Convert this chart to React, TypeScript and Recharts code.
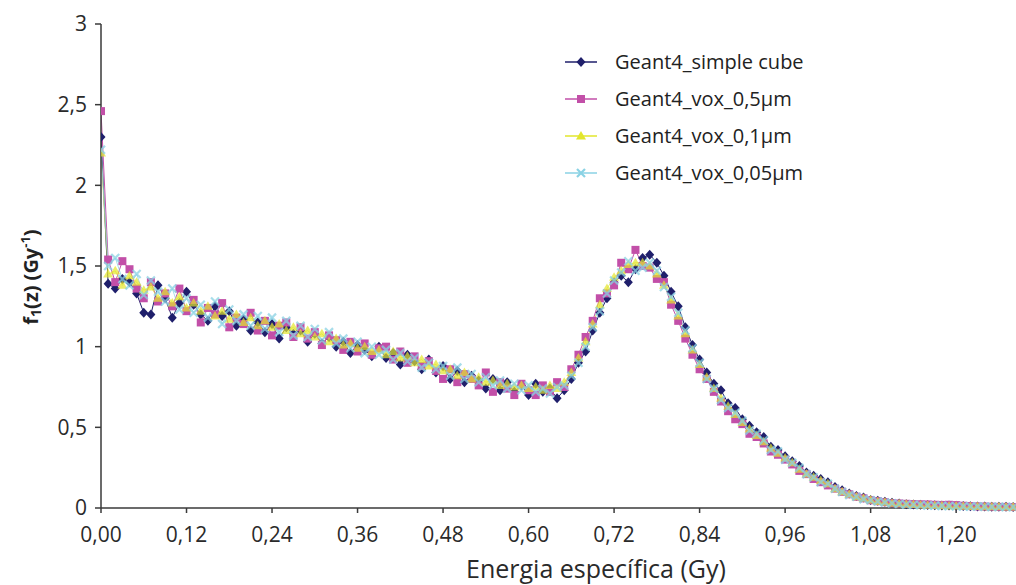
import React from 'react';
import { LineChart, Line, XAxis, YAxis } from 'recharts';

// specific energy bins (Gy)
const energy = [
  0.0, 0.01, 0.02, 0.03, 0.04, 0.05, 0.06, 0.07, 0.08, 0.09,
  0.1, 0.11, 0.12, 0.13, 0.14, 0.15, 0.16, 0.17, 0.18, 0.19,
  0.2, 0.21, 0.22, 0.23, 0.24, 0.25, 0.26, 0.27, 0.28, 0.29,
  0.3, 0.31, 0.32, 0.33, 0.34, 0.35, 0.36, 0.37, 0.38, 0.39,
  0.4, 0.41, 0.42, 0.43, 0.44, 0.45, 0.46, 0.47, 0.48, 0.49,
  0.5, 0.51, 0.52, 0.53, 0.54, 0.55, 0.56, 0.57, 0.58, 0.59,
  0.6, 0.61, 0.62, 0.63, 0.64, 0.65, 0.66, 0.67, 0.68, 0.69,
  0.7, 0.71, 0.72, 0.73, 0.74, 0.75, 0.76, 0.77, 0.78, 0.79,
  0.8, 0.81, 0.82, 0.83, 0.84, 0.85, 0.86, 0.87, 0.88, 0.89,
  0.9, 0.91, 0.92, 0.93, 0.94, 0.95, 0.96, 0.97, 0.98, 0.99,
  1.0, 1.01, 1.02, 1.03, 1.04, 1.05, 1.06, 1.07, 1.08, 1.09,
  1.1, 1.11, 1.12, 1.13, 1.14, 1.15, 1.16, 1.17, 1.18, 1.19,
  1.2, 1.21, 1.22, 1.23, 1.24, 1.25, 1.26, 1.27, 1.28,
];

const simpleCube = [
  2.3, 1.39, 1.36, 1.42, 1.4, 1.33, 1.21, 1.2, 1.38, 1.3,
  1.18, 1.27, 1.34, 1.26, 1.2, 1.16, 1.25, 1.19, 1.22, 1.13,
  1.17, 1.1, 1.15, 1.09, 1.14, 1.05, 1.12, 1.08, 1.1, 1.03,
  1.08, 1.02, 1.06, 1.0, 1.03, 0.96, 1.01, 0.98, 0.94, 1.0,
  0.93, 0.96, 0.89, 0.95, 0.91, 0.86, 0.92, 0.84, 0.88, 0.8,
  0.85, 0.78, 0.82, 0.79, 0.74, 0.8, 0.73, 0.78, 0.72, 0.76,
  0.7, 0.77, 0.72, 0.74, 0.68, 0.73, 0.8, 0.9, 0.97, 1.1,
  1.21, 1.3, 1.4, 1.44, 1.4, 1.48, 1.55, 1.57, 1.52, 1.44,
  1.34, 1.25, 1.12, 1.01, 0.92, 0.84, 0.77, 0.73, 0.65, 0.62,
  0.55, 0.51, 0.47, 0.44, 0.38, 0.36, 0.32, 0.29, 0.26, 0.22,
  0.2, 0.18, 0.16, 0.13, 0.11, 0.09, 0.075, 0.065, 0.05, 0.045,
  0.038, 0.032, 0.028, 0.024, 0.022, 0.02, 0.019, 0.017, 0.016, 0.015,
  0.014, 0.012, 0.011, 0.01, 0.009, 0.008, 0.008, 0.007, 0.006,
];

const vox05 = [
  2.46, 1.54, 1.4, 1.53, 1.48, 1.36, 1.3, 1.4, 1.28, 1.33,
  1.25, 1.36, 1.22, 1.29, 1.15, 1.24, 1.2, 1.27, 1.12, 1.18,
  1.14, 1.21, 1.1, 1.16, 1.07, 1.13, 1.15, 1.06, 1.12, 1.05,
  1.09, 1.01, 1.07, 1.04, 0.98, 1.03, 0.97, 1.02, 0.95, 0.99,
  1.0, 0.92, 0.97, 0.9, 0.94, 0.88, 0.91, 0.85, 0.8, 0.86,
  0.78, 0.83, 0.8, 0.76, 0.84, 0.72, 0.78, 0.74, 0.7, 0.77,
  0.73, 0.7, 0.76, 0.72, 0.78, 0.75, 0.86, 0.95, 1.06, 1.16,
  1.3, 1.33, 1.38, 1.52, 1.48, 1.6, 1.5, 1.49, 1.42, 1.4,
  1.26, 1.16, 1.05, 0.95, 0.86, 0.8, 0.72, 0.66, 0.6, 0.55,
  0.52, 0.46, 0.44, 0.4, 0.35, 0.33, 0.3, 0.27, 0.23, 0.21,
  0.18, 0.16, 0.14, 0.12, 0.1, 0.085, 0.07, 0.06, 0.048, 0.042,
  0.036, 0.03, 0.028, 0.026, 0.024, 0.023, 0.022, 0.02, 0.019, 0.02,
  0.018, 0.014, 0.012, 0.01, 0.009, 0.008, 0.007, 0.007, 0.006,
];

const vox01 = [
  2.2, 1.45, 1.47, 1.38, 1.44, 1.4, 1.35, 1.37, 1.3, 1.34,
  1.27, 1.31, 1.24, 1.27, 1.22, 1.25, 1.19, 1.22, 1.17, 1.2,
  1.15, 1.18, 1.13, 1.16, 1.12, 1.14, 1.1, 1.12, 1.08, 1.1,
  1.06, 1.08, 1.03, 1.05, 1.01, 1.02, 0.99, 1.0, 0.97, 0.98,
  0.95, 0.97, 0.93, 0.94, 0.9, 0.92, 0.88, 0.89, 0.85, 0.86,
  0.82, 0.84, 0.8, 0.81, 0.78, 0.79, 0.76, 0.77, 0.75, 0.76,
  0.74, 0.75, 0.73, 0.76, 0.74, 0.78, 0.84, 0.93, 1.03, 1.14,
  1.26, 1.36, 1.43, 1.47, 1.51, 1.52, 1.52, 1.5, 1.45, 1.38,
  1.29, 1.19, 1.08, 0.98, 0.89, 0.81, 0.74, 0.68, 0.63, 0.58,
  0.53, 0.49, 0.45, 0.41, 0.37, 0.34, 0.31, 0.28, 0.24, 0.21,
  0.19, 0.17, 0.15, 0.12, 0.1, 0.085, 0.07, 0.06, 0.05, 0.04,
  0.035, 0.03, 0.026, 0.023, 0.021, 0.019, 0.017, 0.016, 0.014, 0.013,
  0.012, 0.011, 0.01, 0.009, 0.008, 0.008, 0.007, 0.006, 0.006,
];

const vox005 = [
  2.22, 1.5, 1.55, 1.42, 1.38, 1.45, 1.32, 1.41, 1.34, 1.28,
  1.36, 1.23, 1.3, 1.21, 1.26, 1.18, 1.28, 1.14, 1.23, 1.16,
  1.2, 1.13, 1.19, 1.11, 1.18, 1.09, 1.16, 1.07, 1.13, 1.06,
  1.11, 1.04, 1.09, 1.02, 1.05, 0.99, 1.03, 0.96, 1.0, 0.95,
  0.98, 0.92, 0.96, 0.91, 0.93, 0.87, 0.9, 0.86, 0.88, 0.82,
  0.87, 0.8, 0.83, 0.78, 0.81, 0.76, 0.79, 0.74, 0.77, 0.73,
  0.76, 0.72, 0.74, 0.71, 0.75, 0.76, 0.82, 0.9, 1.0, 1.12,
  1.22, 1.33, 1.41, 1.46, 1.53, 1.47, 1.49, 1.52, 1.47, 1.37,
  1.31, 1.21, 1.1, 0.99, 0.9, 0.8, 0.74, 0.67, 0.62, 0.59,
  0.54, 0.48, 0.46, 0.42, 0.36, 0.35, 0.3, 0.28, 0.25, 0.21,
  0.19, 0.16, 0.15, 0.12, 0.1, 0.08, 0.07, 0.055, 0.048, 0.04,
  0.034, 0.03, 0.025, 0.022, 0.02, 0.018, 0.016, 0.015, 0.013, 0.012,
  0.011, 0.01, 0.009, 0.009, 0.008, 0.007, 0.007, 0.006, 0.006,
];

const xTicks = [0, 0.12, 0.24, 0.36, 0.48, 0.6, 0.72, 0.84, 0.96, 1.08, 1.2];
const yTicks = [0, 0.5, 1, 1.5, 2, 2.5, 3];

const data = energy.map((e, i) => ({
  e,
  cube: simpleCube[i],
  v05: vox05[i],
  v01: vox01[i],
  v005: vox005[i],
}));

const FONT = '"Open Sans", sans-serif';

const Diamond = ({ cx, cy, color }: any) => (
  <path d={`M${cx},${cy - 5}L${cx + 4.5},${cy}L${cx},${cy + 5}L${cx - 4.5},${cy}Z`} fill={color} />
);
const Square = ({ cx, cy, color }: any) => (
  <rect x={cx - 4} y={cy - 4} width={8} height={8} fill={color} />
);
const Triangle = ({ cx, cy, color }: any) => (
  <path d={`M${cx},${cy - 5}L${cx + 5},${cy + 3.5}L${cx - 5},${cy + 3.5}Z`} fill={color} />
);
const Cross = ({ cx, cy, color }: any) => (
  <path
    d={`M${cx - 4},${cy - 4}L${cx + 4},${cy + 4}M${cx - 4},${cy + 4}L${cx + 4},${cy - 4}`}
    stroke={color}
    strokeWidth={2.2}
  />
);

const series = [
  { key: 'cube', name: 'Geant4_simple cube', color: '#1f1f6b', Marker: Diamond, opacity: 1 },
  { key: 'v05', name: 'Geant4_vox_0,5µm', color: '#c24fa8', Marker: Square, opacity: 1 },
  { key: 'v01', name: 'Geant4_vox_0,1µm', color: '#e2e62c', Marker: Triangle, opacity: 0.7 },
  { key: 'v005', name: 'Geant4_vox_0,05µm', color: '#8ad2e4', Marker: Cross, opacity: 0.75 },
];

const fmtX = (v: number) => v.toFixed(2).replace('.', ',');
const fmtY = (v: number) => String(v).replace('.', ',');

const App = () => {
  return (
    <div style={{ position: 'absolute', left: 0, top: 0, width: 1016, height: 585, background: '#fff', fontFamily: FONT }}>
      <LineChart width={1016} height={585} data={data} margin={{ top: 24, right: 0, bottom: 0, left: 0 }}>
        <XAxis
          dataKey="e"
          type="number"
          domain={[0, 1.284]}
          ticks={xTicks}
          tickFormatter={fmtX}
          height={77}
          stroke="#3a3a3a"
          strokeWidth={1.5}
          tickSize={5}
          tickMargin={14}
          tick={{ fontSize: 21, fill: '#2a2a2a', fontFamily: FONT }}
          allowDataOverflow
        />
        <YAxis
          type="number"
          domain={[0, 3]}
          ticks={yTicks}
          tickFormatter={fmtY}
          width={101}
          stroke="#3a3a3a"
          strokeWidth={1.5}
          tickSize={6}
          tickMargin={8}
          tick={{ fontSize: 21, fill: '#2a2a2a', fontFamily: FONT }}
        />
        {series.map((s) => (
          <Line
            key={s.key}
            dataKey={s.key}
            name={s.name}
            type="linear"
            stroke={s.color}
            strokeWidth={1}
            strokeOpacity={s.opacity}
            isAnimationActive={false}
            dot={(p: any) => (
              <g key={`${s.key}-${p.index}`} opacity={s.opacity}>
                <s.Marker cx={p.cx} cy={p.cy} color={s.color} />
              </g>
            )}
            activeDot={false}
          />
        ))}
      </LineChart>

      <svg width={1016} height={585} style={{ position: 'absolute', left: 0, top: 0, pointerEvents: 'none' }}>
        <text
          transform="translate(38,277) rotate(-90)"
          textAnchor="middle"
          fontFamily={FONT}
          fontWeight="bold"
          fontSize={20}
          fill="#222"
        >
          f<tspan fontSize={14} dy={3}>1</tspan>
          <tspan dy={-3}>(z) (Gy</tspan>
          <tspan fontSize={13} dy={-8}>-1</tspan>
          <tspan dy={8}>)</tspan>
        </text>
        <text x={596} y={578} textAnchor="middle" fontFamily={FONT} fontSize={25} fill="#2a2a2a">
          Energia específica (Gy)
        </text>
        {series.map((s, i) => {
          const cy = 62 + i * 37;
          return (
            <g key={s.key}>
              <line x1={565} x2={597} y1={cy} y2={cy} stroke={s.color} strokeWidth={1.5} />
              <s.Marker cx={581} cy={cy} color={s.color} />
              <text x={615} y={cy + 7} fontFamily={FONT} fontSize={20} fill="#222">
                {s.name}
              </text>
            </g>
          );
        })}
      </svg>
    </div>
  );
};

export default App;
